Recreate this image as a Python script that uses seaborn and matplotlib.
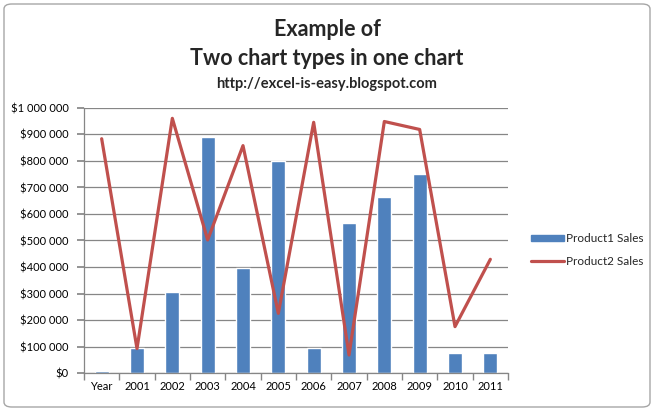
import numpy as np
import pandas as pd
import matplotlib.pyplot as plt
import seaborn as sns
from matplotlib.patches import FancyBboxPatch
from matplotlib.ticker import FuncFormatter

# Valeurs
categories = ["Year", "2001", "2002", "2003", "2004", "2005", "2006",
              "2007", "2008", "2009", "2010", "2011"]
product1_sales = [6000, 93000, 304000, 890000, 397000, 800000, 94000,
                  566000, 664000, 751000, 75000, 75000]
product2_sales = [884000, 92000, 961000, 502000, 858000, 225000, 946000,
                  68000, 949000, 919000, 175000, 429000]

df = pd.DataFrame({
    "category": categories,
    "pos": np.arange(len(categories)),
    "Product1 Sales": product1_sales,
    "Product2 Sales": product2_sales,
})

sns.set_theme(style="white")
plt.rcParams["font.family"] = ["Lato", "DejaVu Sans"]

bar_color = "#4F81BD"
line_color = "#C0504D"
axis_color = "#868686"

fig = plt.figure(figsize=(6.54, 4.11), dpi=100)
ax = fig.add_axes([84 / 654, 1 - 373 / 411, 424 / 654, 265 / 411])

sns.barplot(data=df, x="pos", y="Product1 Sales", color=bar_color,
            width=0.4, saturation=1, ax=ax, zorder=2)
sns.lineplot(data=df, x="pos", y="Product2 Sales", color=line_color,
             linewidth=2.3, ax=ax, zorder=3)

ax.set_xlim(-0.5, len(categories) - 0.5)
ax.set_ylim(0, 1000000)
ax.set_xlabel("")
ax.set_ylabel("")

# graduations
ax.set_yticks(np.arange(0, 1000001, 100000))
ax.yaxis.set_major_formatter(
    FuncFormatter(lambda v, p: "$" + f"{int(v):,}".replace(",", " ")))
ax.set_xticks(np.arange(len(categories)))
ax.set_xticklabels(categories)
ax.set_xticks(np.arange(-0.5, len(categories), 1), minor=True)
ax.tick_params(axis="x", which="major", length=0, pad=6, labelsize=8,
               colors="black")
ax.tick_params(axis="x", which="minor", length=5, color=axis_color,
               direction="out", bottom=True)
ax.tick_params(axis="y", length=5, color=axis_color, direction="out",
               left=True, labelsize=8, colors="black", pad=6)

ax.grid(axis="y", color=axis_color, linewidth=0.9, zorder=0)
ax.set_axisbelow(True)
for side in ["top", "right"]:
    ax.spines[side].set_visible(False)
for side in ["left", "bottom"]:
    ax.spines[side].set_color(axis_color)
    ax.spines[side].set_linewidth(0.9)

# titre
fig.text(0.5, 1 - 29 / 411, "Example of", ha="center", va="center",
         fontsize=15.5, fontweight="bold")
fig.text(0.5, 1 - 58 / 411, "Two chart types in one chart", ha="center",
         va="center", fontsize=15.5, fontweight="bold")
fig.text(0.5, 1 - 84 / 411, "http://excel-is-easy.blogspot.com",
         ha="center", va="center", fontsize=10.5, fontweight="bold")

# légende
handles = [
    plt.Rectangle((0, 0), 1, 1, color=bar_color),
    plt.Line2D([0], [0], color=line_color, linewidth=2.3),
]
fig.legend(handles, ["Product1 Sales", "Product2 Sales"],
           loc="center left", bbox_to_anchor=(520 / 654, 1 - 250 / 411),
           frameon=False, fontsize=8.5, handlelength=2.8, handleheight=0.5,
           handletextpad=0.2, labelspacing=1.0)

# cadre arrondi
fig.patches.append(FancyBboxPatch(
    (4 / 654, 4 / 411), 646 / 654, 403 / 411,
    boxstyle="round,pad=0,rounding_size=0.012",
    transform=fig.transFigure, facecolor="none",
    edgecolor="#A6A6A6", linewidth=1.0))

fig.savefig("out.png", dpi=100)
